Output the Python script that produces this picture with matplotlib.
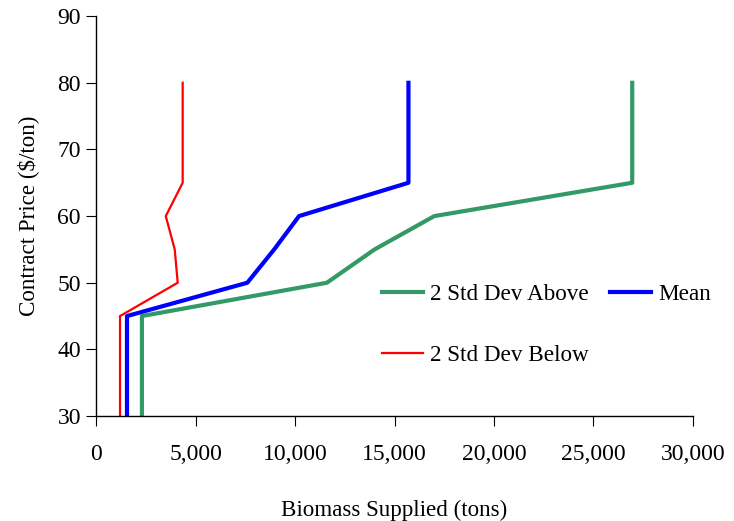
import matplotlib.pyplot as plt
from matplotlib.ticker import FuncFormatter

plt.rcParams['font.family'] = ['Liberation Serif', 'DejaVu Serif']

# contract price levels ($/ton) and biomass supplied (tons) at each level
price = [30, 45, 50, 55, 60, 65, 70, 75, 80]
above = [2300, 2300, 11600, 14000, 17000, 26950, 26950, 26950, 26950]
mean = [1550, 1550, 7600, 8950, 10200, 15700, 15700, 15700, 15700]
below = [1200, 1200, 4100, 3950, 3500, 4350, 4350, 4350, 4350]

fig = plt.figure(figsize=(7.34, 5.21), dpi=100)
ax = fig.add_axes([0.131, 0.2015, 0.813, 0.7675])

l_above, = ax.plot(above, price, color='#339966', lw=3, label='2 Std Dev Above')
l_mean, = ax.plot(mean, price, color='#0000ff', lw=3, label='Mean')
l_below, = ax.plot(below, price, color='#ff0000', lw=1.6, label='2 Std Dev Below')

ax.set_xlim(0, 30000)
ax.set_ylim(30, 90)
ax.set_xticks(range(0, 30001, 5000))
ax.set_yticks(range(30, 91, 10))
ax.xaxis.set_major_formatter(FuncFormatter(lambda v, p: f'{int(v):,}'))

for s in ['top', 'right']:
    ax.spines[s].set_visible(False)
for s in ['left', 'bottom']:
    ax.spines[s].set_linewidth(1.0)

ax.tick_params(axis='x', direction='out', length=7, pad=13, labelsize=17)
ax.tick_params(axis='y', direction='out', length=7, pad=4, labelsize=17)

ax.set_xlabel('Biomass Supplied (tons)', fontsize=16.6, labelpad=25)
ax.set_ylabel('Contract Price ($/ton)', fontsize=16.6, labelpad=13)

# two columns: Above / Mean on the first row, Below underneath
ax.legend([l_above, l_below, l_mean],
          ['2 Std Dev Above', '2 Std Dev Below', 'Mean'],
          ncol=2, frameon=False, fontsize=16.7, loc='upper left',
          bbox_to_anchor=(0.479, 0.33), borderpad=0, borderaxespad=0,
          handlelength=1.75, handletextpad=0.3, labelspacing=1.7,
          columnspacing=0.95)

fig.savefig('out.png', dpi=100)
